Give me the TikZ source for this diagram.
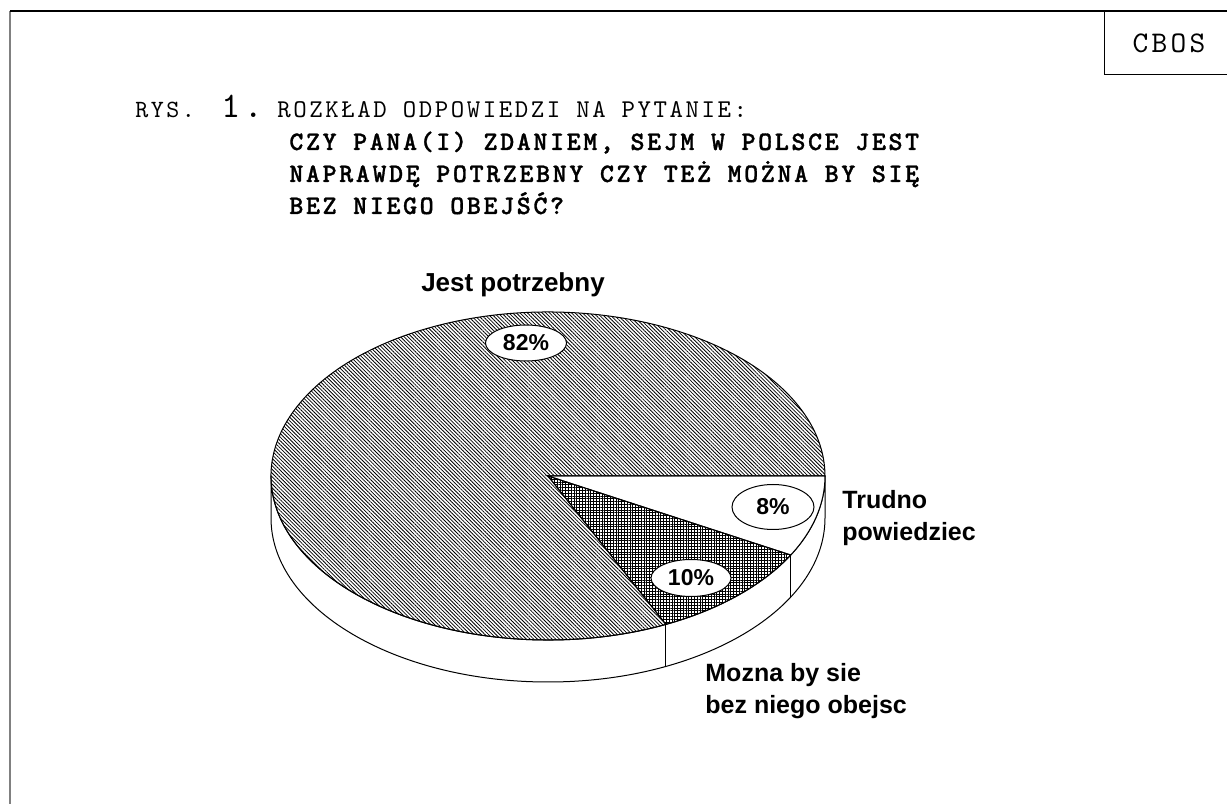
\documentclass[tikz,border=0pt]{standalone}
\usepackage{fontspec}
\usepackage{tikz}
\usetikzlibrary{shapes.geometric}
\usetikzlibrary{patterns.meta}
\usetikzlibrary{positioning}
\newfontfamily\chartfont{Liberation Sans}
\newfontfamily\capmono{lmmono10-regular.otf}[LetterSpace=10]
\newfontfamily\boldmono{lmmonolt10-bold.otf}[LetterSpace=10,FakeBold=1.2]
\newfontfamily\cbosmono{lmmono10-regular.otf}[LetterSpace=11]
\tikzstyle{pcttag}=[ellipse,draw,fill=white,line width=0.5pt,inner sep=0pt,font=\chartfont\bfseries\fontsize{11.5}{13}\selectfont]
\tikzstyle{answer}=[align=left,inner sep=0pt,font=\chartfont\bfseries\fontsize{12.5}{16}\selectfont]
\tikzstyle{slice} = [draw,line width=0.5pt]
\tikzstyle{blankslice} = [slice,fill=white]
\tikzstyle{gridslice} = [slice,pattern={Hatch[angle=0,distance=1.4pt,line width=0.35pt]}]
\tikzstyle{hatchslice} = [slice,pattern={Lines[angle=-45,distance=1.3pt,line width=0.4pt]}]
\tikzset{qline/.style={anchor=base west,inner sep=0pt,font=\boldmono\fontsize{13.3}{16}\selectfont}}
\tikzset{capline/.style={anchor=base west,inner sep=0pt}}
\tikzset{pie/.style={x radius=277,y radius=164}}

\begin{document}
\begin{tikzpicture}[x=0.5pt,y=0.5pt]

  \def\dep{42};

  \useasboundingbox (0,0) rectangle (1227,804);

  % frame and CBOS tab
  \draw[line width=0.9pt,black!50] (10,793) -- (10,0);
  \draw[line width=0.7pt] (1227,793) -- (10,793);
  \draw[line width=0.5pt] (1104,793) -- (1104,729) -- (1227,729);
  \node[inner sep=0pt,font=\cbosmono\fontsize{15}{17}\selectfont] (cbos) at (1169,761) {CBOS};

  % title
  \node[capline,font=\capmono\fontsize{12.4}{14}\selectfont] (rys) at (135,686) {RYS.};
  \node[capline,font=\capmono\fontsize{18}{20}\selectfont] (nr) at (221,686) {1.};
  \node[capline,font=\capmono\fontsize{12.8}{14}\selectfont] (rozklad) at (277,686) {ROZKŁAD ODPOWIEDZI NA PYTANIE:};

  \foreach \y/\name/\txt in {654/q1/{CZY PANA(I) ZDANIEM, SEJM W POLSCE JEST}, 622/q2/{NAPRAWDĘ POTRZEBNY CZY TEŻ MOŻNA BY SIĘ}, 590/q3/{BEZ NIEGO OBEJŚĆ?}}
          \node[qline] (\name) at (289,\y) {\txt};

  % pie
  \coordinate (c) at (548,328);

  \draw[slice,fill=white] (c) ++(0:277 and 164) -- ++(0,-\dep) arc[pie,start angle=0,end angle=-180] -- ++(0,\dep) arc[pie,start angle=-180,end angle=0] -- cycle;

  \foreach \a in {-28.8,-64.8}
          \draw[slice] (c) ++(\a:277 and 164) -- ++(0,-\dep);

  \foreach \a/\b/\sty in {0/-28.8/blankslice, -28.8/-64.8/gridslice, -64.8/-360/hatchslice}
          \path[\sty] (c) -- ++(\a:277 and 164) arc[pie,start angle=\a,end angle=\b] -- cycle;

  % labels
  \node[anchor=base,inner sep=0pt,font=\chartfont\bfseries\fontsize{13}{15}\selectfont] (jest) at (513,512) {Jest potrzebny};
  \node[pcttag,minimum width=40.5pt,minimum height=18pt] (p82) at (526,461) {82\%};
  \node[pcttag,minimum width=41pt,minimum height=22.5pt] (p8) at (773,297) {8\%};
  \node[pcttag,minimum width=40pt,minimum height=18.5pt] (p10) at (691,226) {10\%};
  \node[answer,anchor=north west] (trudno) at (842,314) {Trudno\\powiedziec};
  \node[answer,anchor=north west] (mozna) at (705,141) {Mozna by sie\\bez niego obejsc};

\end{tikzpicture}
\end{document}
